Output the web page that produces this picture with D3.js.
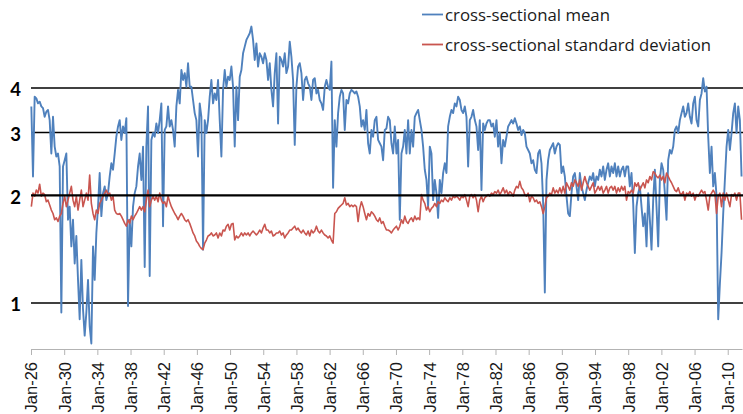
<!DOCTYPE html>
<html>
<head>
<meta charset="utf-8">
<script src="https://cdn.jsdelivr.net/npm/d3@7"></script>
<style>
html,body{margin:0;padding:0;background:#fff;}
svg{display:block;}
</style>
</head>
<body>
<svg id="chart" width="743" height="414"></svg>
<script>
// ---- data ----
const seriesNames = ["cross-sectional mean", "cross-sectional standard deviation"];
const yTickValues = [1, 2, 3, 4];
const xTickYears = [1926,1930,1934,1938,1942,1946,1950,1954,1958,1962,1966,1970,1974,1978,1982,1986,1990,1994,1998,2002,2006,2010];
const sampleStart = 1926.04;      // first sample (decimal year)
const sampleStepYears = 0.201;    // spacing of the samples

const meanValues = [
3.55,2.26,3.78,3.74,3.62,3.66,3.55,3.51,3.32,3.43,
3.47,3.25,2.62,3.32,2.74,2.57,2.62,2.41,0.94,2.41,
2.51,2.62,1.71,1.86,1.44,1.71,1.29,1.54,1.16,0.90,
1.32,0.96,0.81,0.94,1.16,0.86,0.77,1.44,1.16,1.57,
1.86,2.31,1.75,2.03,2.12,1.94,2.03,2.26,2.46,2.36,
2.62,2.92,3.12,3.25,2.86,3.12,2.99,3.29,0.98,1.71,
1.44,1.86,2.03,2.12,2.41,2.62,2.21,2.74,1.26,2.74,
3.55,1.19,2.86,2.99,2.92,3.18,2.99,3.25,3.62,1.64,
3.05,3.12,3.55,3.12,3.25,3.05,2.74,3.55,3.95,3.62,
4.49,4.21,4.40,4.03,4.69,4.03,4.03,3.70,3.40,3.25,
2.57,3.62,3.32,1.41,3.25,2.99,3.25,3.78,4.21,3.62,
3.86,3.70,4.21,3.25,2.57,3.95,4.49,4.03,4.30,4.21,
4.59,4.03,2.74,4.03,3.25,4.30,4.49,5.00,5.22,5.45,
5.57,5.69,5.94,5.45,4.79,5.33,4.59,5.00,4.89,4.69,
5.00,4.79,
4.21,4.69,3.95,3.55,4.40,5.00,3.18,4.89,4.79,4.59,
5.00,4.40,4.59,5.39,4.89,4.21,2.77,4.03,4.59,4.69,
4.40,3.70,4.21,4.30,4.12,4.03,3.70,4.21,4.26,3.86,
3.95,3.70,3.62,3.47,4.03,4.21,4.03,3.95,4.74,2.10,
3.25,2.74,3.40,3.78,3.95,3.86,3.05,3.70,3.62,3.86,
3.95,3.91,3.86,3.91,3.78,3.55,3.12,3.25,3.05,3.47,
2.80,2.62,3.05,2.92,3.25,3.32,2.86,2.80,2.74,2.51,
3.05,3.08,
3.32,3.25,2.80,2.62,3.12,2.62,2.86,1.71,2.62,2.74,
3.05,2.62,3.25,2.62,3.05,2.74,3.32,3.40,3.47,3.25,
3.05,2.74,2.36,2.21,1.86,2.74,2.62,1.94,2.21,2.03,
1.73,2.21,2.03,2.31,2.46,2.31,3.12,3.32,3.47,3.40,
3.62,3.55,3.78,3.70,3.47,3.40,3.55,3.32,2.41,3.25,
3.32,3.47,3.25,3.12,2.68,3.25,2.07,3.18,3.05,3.18,
3.25,3.25,3.12,3.18,2.92,3.25,2.74,2.99,2.46,2.86,
2.74,2.92,
3.12,3.18,3.25,3.18,3.29,3.18,3.05,3.12,2.95,3.05,
2.99,2.74,2.68,2.62,2.46,2.51,2.36,2.31,2.62,2.68,
2.46,1.90,1.07,2.21,2.51,2.68,2.74,2.80,2.62,2.74,
2.80,2.77,2.31,2.41,2.26,1.99,1.78,1.75,2.03,2.26,
2.31,2.12,1.94,2.31,2.12,2.03,1.94,2.07,2.17,2.26,
2.21,2.31,2.12,2.26,2.21,2.36,2.26,2.41,2.21,2.36,
2.46,2.26,2.41,2.31,2.46,2.26,2.41,2.26,2.36,2.41,
2.26,2.41,
2.41,2.12,2.31,1.90,1.38,1.86,2.03,2.12,1.86,1.64,
1.78,1.44,2.03,1.71,1.41,1.94,2.36,1.86,1.44,2.21,
2.46,2.36,2.03,1.71,2.51,2.68,2.62,2.74,3.05,3.12,
2.99,3.25,3.40,3.55,3.32,3.40,3.62,3.32,3.18,3.62,
3.78,3.25,3.12,3.70,3.86,4.26,3.91,4.03,2.92,2.31,
2.74,2.12,2.31,1.99,0.90,1.13,1.38,1.78,2.21,2.74,
3.05,2.68,2.99,3.40,3.62,2.99,3.55,3.25,2.26
];

const sdValues = [
1.86,2.03,1.99,2.07,2.03,2.15,1.99,2.03,2.01,1.92,
1.94,1.88,1.82,1.78,1.71,1.73,1.69,1.75,1.78,1.90,
1.99,1.86,1.94,2.03,2.12,1.94,1.86,1.99,1.82,1.94,
2.07,1.86,1.94,2.03,1.94,2.28,1.90,1.78,1.71,1.82,
1.78,1.90,1.94,1.99,2.03,2.07,2.01,2.03,1.94,1.99,
1.82,1.78,1.77,1.78,1.75,1.71,1.67,1.64,1.71,1.67,
1.75,1.71,1.75,1.78,1.82,1.86,1.82,1.86,1.80,1.94,
2.07,1.86,1.94,1.99,1.94,1.99,1.92,2.03,1.94,1.90,
1.92,1.86,1.99,1.92,1.86,1.82,1.78,1.75,1.71,1.75,
1.78,1.75,1.71,1.69,1.71,1.67,1.62,1.57,1.54,1.49,
1.47,1.44,1.42,1.41,1.47,1.50,1.54,1.55,1.57,1.54,
1.55,1.57,1.52,1.57,1.54,1.60,1.59,1.64,1.66,1.60,
1.66,1.67,1.50,1.54,1.52,1.54,1.57,1.54,1.57,1.55,
1.57,1.54,1.57,1.59,1.57,1.55,1.57,1.60,1.57,1.62,
1.66,1.60,
1.60,1.57,1.59,1.54,1.55,1.57,1.57,1.59,1.55,1.57,
1.52,1.55,1.57,1.60,1.60,1.62,1.64,1.60,1.62,1.59,
1.57,1.60,1.57,1.55,1.59,1.54,1.60,1.57,1.59,1.64,
1.59,1.57,1.60,1.57,1.55,1.54,1.52,1.54,1.50,1.47,
1.78,1.80,1.84,1.86,1.88,1.90,1.97,1.88,1.90,1.86,
1.88,1.86,1.88,1.86,1.69,1.84,1.92,1.86,1.78,1.71,
1.78,1.75,1.80,1.78,1.75,1.71,1.69,1.73,1.67,1.69,
1.64,1.60,
1.60,1.59,1.57,1.60,1.62,1.64,1.60,1.64,1.71,1.67,
1.75,1.69,1.67,1.71,1.73,1.69,1.75,1.71,1.73,1.71,
2.01,1.94,1.90,1.82,1.86,1.80,1.84,1.86,1.90,1.86,
1.92,1.90,1.94,1.92,1.97,1.94,1.92,1.97,1.94,1.99,
1.97,1.99,1.97,1.94,1.99,1.97,2.01,1.94,1.86,1.99,
2.01,1.97,2.01,1.94,1.80,1.94,1.99,1.92,1.97,1.99,
2.01,1.99,2.03,2.01,2.05,2.03,2.07,2.01,2.05,2.10,
2.03,2.07,
2.01,2.05,2.03,1.99,2.07,2.12,2.10,2.19,2.10,2.07,
2.01,1.99,2.03,1.92,1.99,1.97,1.92,1.94,1.90,1.92,
1.86,1.78,1.86,1.97,1.99,2.03,2.01,2.10,2.03,2.07,
2.03,2.10,2.03,2.12,2.03,2.17,2.12,2.07,2.17,2.12,
2.21,2.17,2.12,2.21,2.07,2.17,2.26,2.17,2.12,2.07,
2.12,2.17,2.03,2.07,2.12,2.07,2.12,2.03,2.07,2.12,
2.03,2.10,2.12,2.07,2.12,2.03,2.10,2.05,2.12,2.07,
2.12,1.94,
2.05,2.03,2.07,2.03,2.17,2.12,2.17,2.07,2.12,2.17,
2.10,2.21,2.17,2.26,2.21,2.33,2.31,2.26,2.24,2.28,
2.21,2.26,2.17,2.31,2.26,2.21,2.17,2.12,2.07,2.05,
2.10,2.03,2.01,2.05,1.94,2.03,2.01,2.05,1.99,2.03,
1.94,2.01,1.99,2.03,2.07,2.03,2.05,1.94,1.82,1.99,
2.03,2.07,2.03,1.78,1.99,2.03,1.86,2.03,1.94,2.03,
1.94,1.86,2.01,1.99,2.03,1.94,2.03,2.03,1.71
];

// ---- chart ----
const svg = d3.select("#chart");
const W = 743, H = 414;
const plotLeft = 31, plotRight = 742, plotBottom = 349, plotTop = 0;

const x = d3.scaleLinear().domain([1926, 2011.72]).range([plotLeft, plotRight]);
const y = d3.scaleLog().domain([0.743, 7.05]).range([plotBottom, plotTop]);

const toPoints = vals => vals.map((v, i) => ({t: sampleStart + i * sampleStepYears, v}));
const meanPts = toPoints(meanValues);
const sdPts = toPoints(sdValues);

// gridlines (the "2" line is drawn on top of the series, like an axis line)
const gridBelow = svg.append("g");
yTickValues.filter(v => v !== 2).forEach(v => {
  gridBelow.append("line")
    .attr("x1", plotLeft).attr("x2", W)
    .attr("y1", y(v)).attr("y2", y(v))
    .attr("stroke", "#000").attr("stroke-width", 1.5);
});

// y labels
svg.append("g").selectAll("text").data(yTickValues).join("text")
  .attr("x", 21).attr("y", d => y(d) + 2)
  .attr("dy", "0.35em")
  .attr("text-anchor", "end")
  .attr("font-family", "Lato, 'Liberation Sans', sans-serif")
  .attr("font-weight", "bold")
  .attr("font-size", 18.5)
  .attr("fill", "#000")
  .text(d => d);

// bottom axis
const xAxis = d3.axisBottom(x)
  .tickValues(xTickYears)
  .tickSize(6).tickSizeOuter(0)
  .tickFormat(d => "Jan-" + String(d % 100).padStart(2, "0"));
const gx = svg.append("g").attr("transform", `translate(0,${plotBottom})`).call(xAxis);
gx.select(".domain").attr("stroke", "#b3b3b3").attr("stroke-width", 1);
gx.selectAll(".tick line").attr("stroke", "#b3b3b3");
gx.selectAll(".tick text")
  .attr("transform", "rotate(-90)")
  .attr("x", -13).attr("y", 0).attr("dy", "0.36em")
  .attr("text-anchor", "end")
  .attr("font-family", "'Liberation Sans', Arial, sans-serif")
  .attr("font-size", 16.5)
  .attr("fill", "#1a1a1a");

// series
const line = d3.line().x(d => x(d.t)).y(d => y(d.v));
svg.append("path").datum(meanPts)
  .attr("fill", "none").attr("stroke", "#4F81BD")
  .attr("stroke-width", 1.9).attr("stroke-linejoin", "round")
  .attr("d", line);
svg.append("path").datum(sdPts)
  .attr("fill", "none").attr("stroke", "#C9554F")
  .attr("stroke-width", 1.6).attr("stroke-linejoin", "round")
  .attr("d", line);

// "2" line on top
svg.append("line")
  .attr("x1", plotLeft).attr("x2", W)
  .attr("y1", y(2)).attr("y2", y(2))
  .attr("stroke", "#000").attr("stroke-width", 2.4);

// legend
const legendColors = ["#4F81BD", "#C9554F"];
const legendWidths = [165, 266];
const lg = svg.append("g");
seriesNames.forEach((name, i) => {
  const cy = 14.5 + i * 30;
  lg.append("line").attr("x1", 422).attr("x2", 443).attr("y1", cy).attr("y2", cy)
    .attr("stroke", legendColors[i]).attr("stroke-width", 1.8);
  lg.append("text").attr("x", 445).attr("y", cy + 6.5)
    .attr("font-family", "'Open Sans', sans-serif")
    .attr("font-size", 16.5)
    .attr("fill", "#1a1a1a")
    .attr("textLength", legendWidths[i])
    .attr("lengthAdjust", "spacingAndGlyphs")
    .text(name);
});
</script>
</body>
</html>
